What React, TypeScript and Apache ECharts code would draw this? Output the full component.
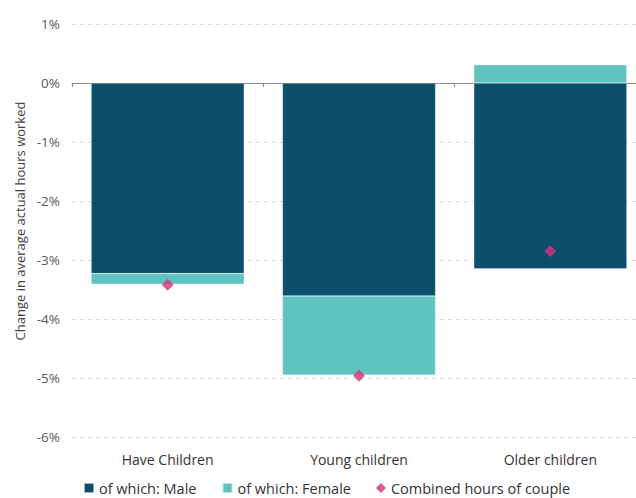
import React, { useEffect, useRef } from "react";
import * as echarts from "echarts";

const categories = ["Have Children", "Young children", "Older children"];
const maleValues = [-3.23, -3.61, -3.15];
const femaleValues = [-0.18, -1.34, 0.31];
const combinedValues = [-3.42, -4.96, -2.85];
const yTicks = { min: -6, max: 1, interval: 1 };
const yAxisTitle = "Change in average actual hours worked";

export default function App() {
  const ref = useRef<HTMLDivElement>(null);
  useEffect(() => {
    if (!ref.current) return;
    const chart = echarts.init(ref.current, undefined, { renderer: "svg" });
    const font = "'Open Sans', 'Noto Sans', sans-serif";
    const gridLeft = 72;
    const gridWidth = 574;
    chart.setOption({
      animation: false,
      textStyle: { fontFamily: font },
      grid: {
        left: gridLeft,
        width: gridWidth,
        top: 24,
        bottom: 61,
        containLabel: false,
        outerBoundsMode: "none",
      },
      legend: {
        left: 83,
        top: 480,
        padding: 0,
        itemWidth: 10,
        itemHeight: 10,
        itemGap: 25,
        textStyle: { fontSize: 14.5, lineHeight: 16, color: "#333", fontFamily: font },
        data: [
          { name: "of which: Male", icon: "rect" },
          { name: "of which: Female", icon: "rect" },
          { name: "Combined hours of couple", icon: "diamond", itemStyle: { color: "#D6317A" } },
        ],
      },
      xAxis: {
        type: "category",
        data: categories,
        position: "bottom",
        axisLine: { onZero: true, lineStyle: { color: "#8c8c8c", width: 1 } },
        axisTick: { show: true, length: 4, lineStyle: { color: "#8c8c8c" } },
        axisLabel: { show: false },
        splitLine: { show: false },
      },
      yAxis: {
        type: "value",
        min: yTicks.min,
        max: yTicks.max,
        interval: yTicks.interval,
        axisLine: { show: false },
        axisTick: { show: false },
        axisLabel: {
          formatter: (v: number) => `${v}%`,
          fontSize: 13.5,
          color: "#595959",
          margin: 12,
        },
        splitLine: { lineStyle: { color: "#d9d9d9", type: [4, 4], width: 1 } },
      },
      graphic: [
        ...categories.map((c, i) => ({
          type: "text",
          x: gridLeft + (gridWidth / 3) * (i + 0.5),
          y: 459,
          style: {
            text: c,
            fontSize: 14,
            fill: "#333",
            fontFamily: font,
            align: "center",
            verticalAlign: "middle",
          },
        })),
        {
          type: "text",
          x: 20,
          y: 221,
          rotation: Math.PI / 2,
          style: {
            text: yAxisTitle,
            fontSize: 13,
            fill: "#404040",
            fontFamily: font,
            align: "center",
            verticalAlign: "middle",
          },
        },
      ],
      series: [
        {
          name: "of which: Male",
          type: "bar",
          stack: "total",
          data: maleValues,
          barCategoryGap: "20%",
          itemStyle: { color: "#0B4F6C", borderColor: "rgba(255,255,255,0.6)", borderWidth: 0.5 },
        },
        {
          name: "of which: Female",
          type: "bar",
          stack: "total",
          data: femaleValues,
          barCategoryGap: "20%",
          itemStyle: { color: "#5FC4C0", borderColor: "rgba(255,255,255,0.6)", borderWidth: 0.5 },
        },
        {
          name: "Combined hours of couple",
          type: "scatter",
          data: combinedValues,
          symbol: "diamond",
          symbolSize: 12,
          itemStyle: { color: "#D6317A" },
          z: 5,
        },
      ],
    });
    return () => chart.dispose();
  }, []);
  return (
    <div
      ref={ref}
      style={{ position: "absolute", left: 0, top: 0, width: 636, height: 498 }}
    />
  );
}
